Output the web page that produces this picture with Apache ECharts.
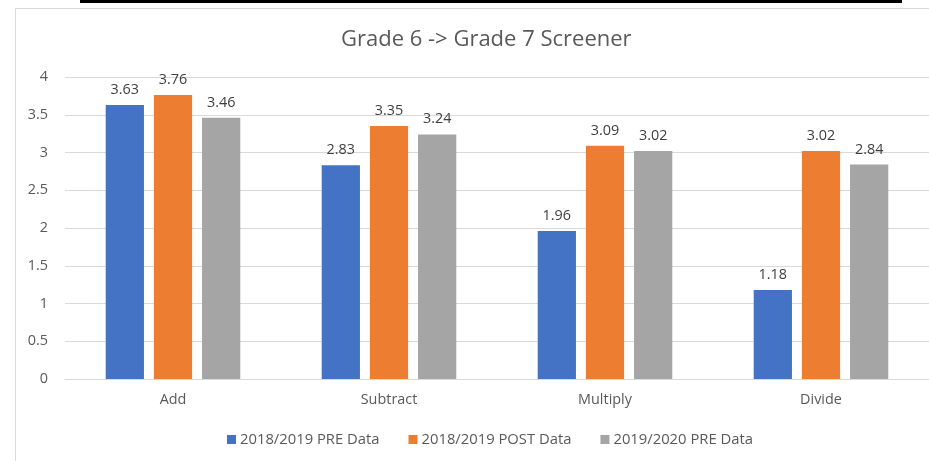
<!DOCTYPE html>
<html><head><meta charset="utf-8">
<script src="https://cdn.jsdelivr.net/npm/echarts@6/dist/echarts.min.js"></script>
<style>html,body{margin:0;padding:0;background:#fff}#c{width:929px;height:461px}</style>
</head><body><div id="c"></div>
<script>
const categories = ['Add', 'Subtract', 'Multiply', 'Divide'];
const seriesNames = ['2018/2019 PRE Data', '2018/2019 POST Data', '2019/2020 PRE Data'];
const pre1819 = [3.63, 2.83, 1.96, 1.18];
const post1819 = [3.76, 3.35, 3.09, 3.02];
const pre1920 = [3.46, 3.24, 3.02, 2.84];
const yTicks = [0, 0.5, 1, 1.5, 2, 2.5, 3, 3.5, 4];
const colors = ['#4472C4', '#ED7D31', '#A5A5A5'];
const font = 'Open Sans';
const chart = echarts.init(document.getElementById('c'), null, {renderer: 'canvas'});
const values = [pre1819, post1819, pre1920];
chart.setOption({
  animation: false,
  color: colors,
  textStyle: {fontFamily: font},
  title: {text: 'Grade 6 -> Grade 7 Screener', left: 336, top: 24,
    textStyle: {fontFamily: font, fontSize: 22, fontWeight: 'normal', color: '#595959'}},
  graphic: [
    {type: 'rect', shape: {x: 80, y: 0, width: 822, height: 3}, style: {fill: '#000'}, silent: true},
    {type: 'rect', shape: {x: 15.5, y: 8.5, width: 940, height: 470}, style: {fill: 'none', stroke: '#d9d9d9', lineWidth: 1}, silent: true}
  ],
  legend: {top: 427, left: 222, itemWidth: 9, itemHeight: 9, itemGap: 29,
    icon: 'rect',
    textStyle: {fontFamily: font, fontSize: 14.8, color: '#595959', padding: [0, 0, 0, -1]},
    data: seriesNames},
  grid: {left: 65, right: -3, top: 77, bottom: 82},
  xAxis: {type: 'category', data: categories,
    axisLine: {lineStyle: {color: '#d9d9d9'}}, axisTick: {show: false},
    axisLabel: {color: '#595959', fontSize: 14.4, margin: 14, fontFamily: font}},
  yAxis: {type: 'value', min: yTicks[0], max: yTicks[yTicks.length - 1], interval: 0.5,
    axisLine: {show: false}, axisTick: {show: false},
    splitLine: {lineStyle: {color: '#d9d9d9'}},
    axisLabel: {color: '#595959', fontSize: 14.4, margin: 17, fontFamily: font}},
  series: seriesNames.map((n, i) => ({
    name: n, type: 'bar', data: values[i], barGap: '26%', barCategoryGap: '37.7%',
    label: {show: true, position: 'top', distance: 8, color: '#404040', fontSize: 14.4, fontFamily: font}
  }))
});
</script></body></html>
